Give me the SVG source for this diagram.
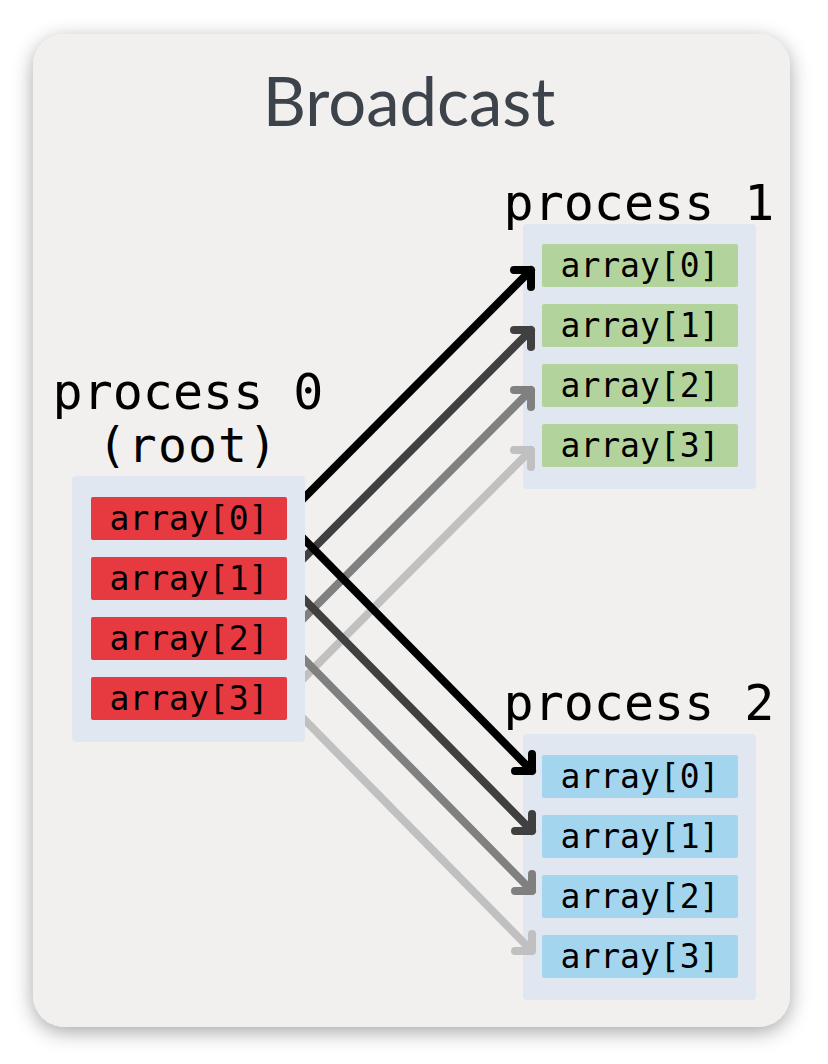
<svg xmlns="http://www.w3.org/2000/svg" width="828" height="1064" viewBox="0 0 828 1064">
<defs>
<filter id="shadow" x="-10%" y="-10%" width="120%" height="120%">
<feDropShadow dx="0" dy="5" stdDeviation="10" flood-color="#000" flood-opacity="0.35"/>
</filter>
<style>
.card{fill:#f1f0ee;}
.title{font-family:Lato,"Liberation Sans",sans-serif;font-size:67px;font-weight:400;fill:#3d434a;text-anchor:middle;}
.box{fill:#e1e7f0;}
.label{font-family:"DejaVu Sans Mono","Liberation Mono",monospace;font-size:50px;fill:#000;text-anchor:middle;}
.root{font-size:48px;letter-spacing:1.2px;}
.cell-text{font-family:"DejaVu Sans Mono","Liberation Mono",monospace;font-size:33px;fill:#000;text-anchor:middle;}
.red{fill:#e63a40;}
.green{fill:#b3d39c;}
.blue{fill:#a4d5ef;}
.conn{fill:none;stroke-width:8;stroke-linecap:round;stroke-linejoin:round;}
</style>
</defs>
<rect class="card" x="33" y="34" width="757" height="993" rx="32" filter="url(#shadow)"/>
<text class="title" x="409" y="126">Broadcast</text>

<g id="process1">
<text class="label" x="639" y="220">process 1</text>
<rect class="box" x="523" y="224" width="233" height="265" rx="4"/>
<rect class="green" x="542" y="244" width="196" height="43" rx="2"/>
<text class="cell-text" x="640" y="277">array[0]</text>
<rect class="green" x="542" y="304" width="196" height="43" rx="2"/>
<text class="cell-text" x="640" y="337">array[1]</text>
<rect class="green" x="542" y="364" width="196" height="43" rx="2"/>
<text class="cell-text" x="640" y="397">array[2]</text>
<rect class="green" x="542" y="424" width="196" height="43" rx="2"/>
<text class="cell-text" x="640" y="457">array[3]</text>
</g>

<g id="process2">
<text class="label" x="639" y="720">process 2</text>
<rect class="box" x="523" y="734" width="233" height="266" rx="4"/>
<rect class="blue" x="542" y="755" width="196" height="43" rx="2"/>
<text class="cell-text" x="640" y="788">array[0]</text>
<rect class="blue" x="542" y="815" width="196" height="43" rx="2"/>
<text class="cell-text" x="640" y="848">array[1]</text>
<rect class="blue" x="542" y="875" width="196" height="43" rx="2"/>
<text class="cell-text" x="640" y="908">array[2]</text>
<rect class="blue" x="542" y="935" width="196" height="43" rx="2"/>
<text class="cell-text" x="640" y="968">array[3]</text>
</g>

<g id="connectors">
<path class="conn" stroke="#000000" d="M295,507 L531,270 M514,270 L531,270 L531,287"/>
<path class="conn" stroke="#404040" d="M295,567 L531,330 M514,330 L531,330 L531,347"/>
<path class="conn" stroke="#808080" d="M295,627 L531,390 M514,390 L531,390 L531,407"/>
<path class="conn" stroke="#c0c0c0" d="M295,687 L531,450 M514,450 L531,450 L531,467"/>
<path class="conn" stroke="#000000" d="M295,530 L532,771 M532,754 L532,771 L515,771"/>
<path class="conn" stroke="#404040" d="M295,590 L532,831 M532,814 L532,831 L515,831"/>
<path class="conn" stroke="#808080" d="M295,650 L532,891 M532,874 L532,891 L515,891"/>
<path class="conn" stroke="#c0c0c0" d="M295,710 L532,951 M532,934 L532,951 L515,951"/>
</g>

<g id="process0">
<text class="label" x="188" y="409">process 0</text>
<text class="label root" x="188" y="462">(root)</text>
<rect class="box" x="72" y="476" width="233" height="266" rx="4"/>
<rect class="red" x="91" y="497" width="196" height="43" rx="2"/>
<text class="cell-text" x="189" y="530">array[0]</text>
<rect class="red" x="91" y="557" width="196" height="43" rx="2"/>
<text class="cell-text" x="189" y="590">array[1]</text>
<rect class="red" x="91" y="617" width="196" height="43" rx="2"/>
<text class="cell-text" x="189" y="650">array[2]</text>
<rect class="red" x="91" y="677" width="196" height="43" rx="2"/>
<text class="cell-text" x="189" y="710">array[3]</text>
</g>
</svg>
